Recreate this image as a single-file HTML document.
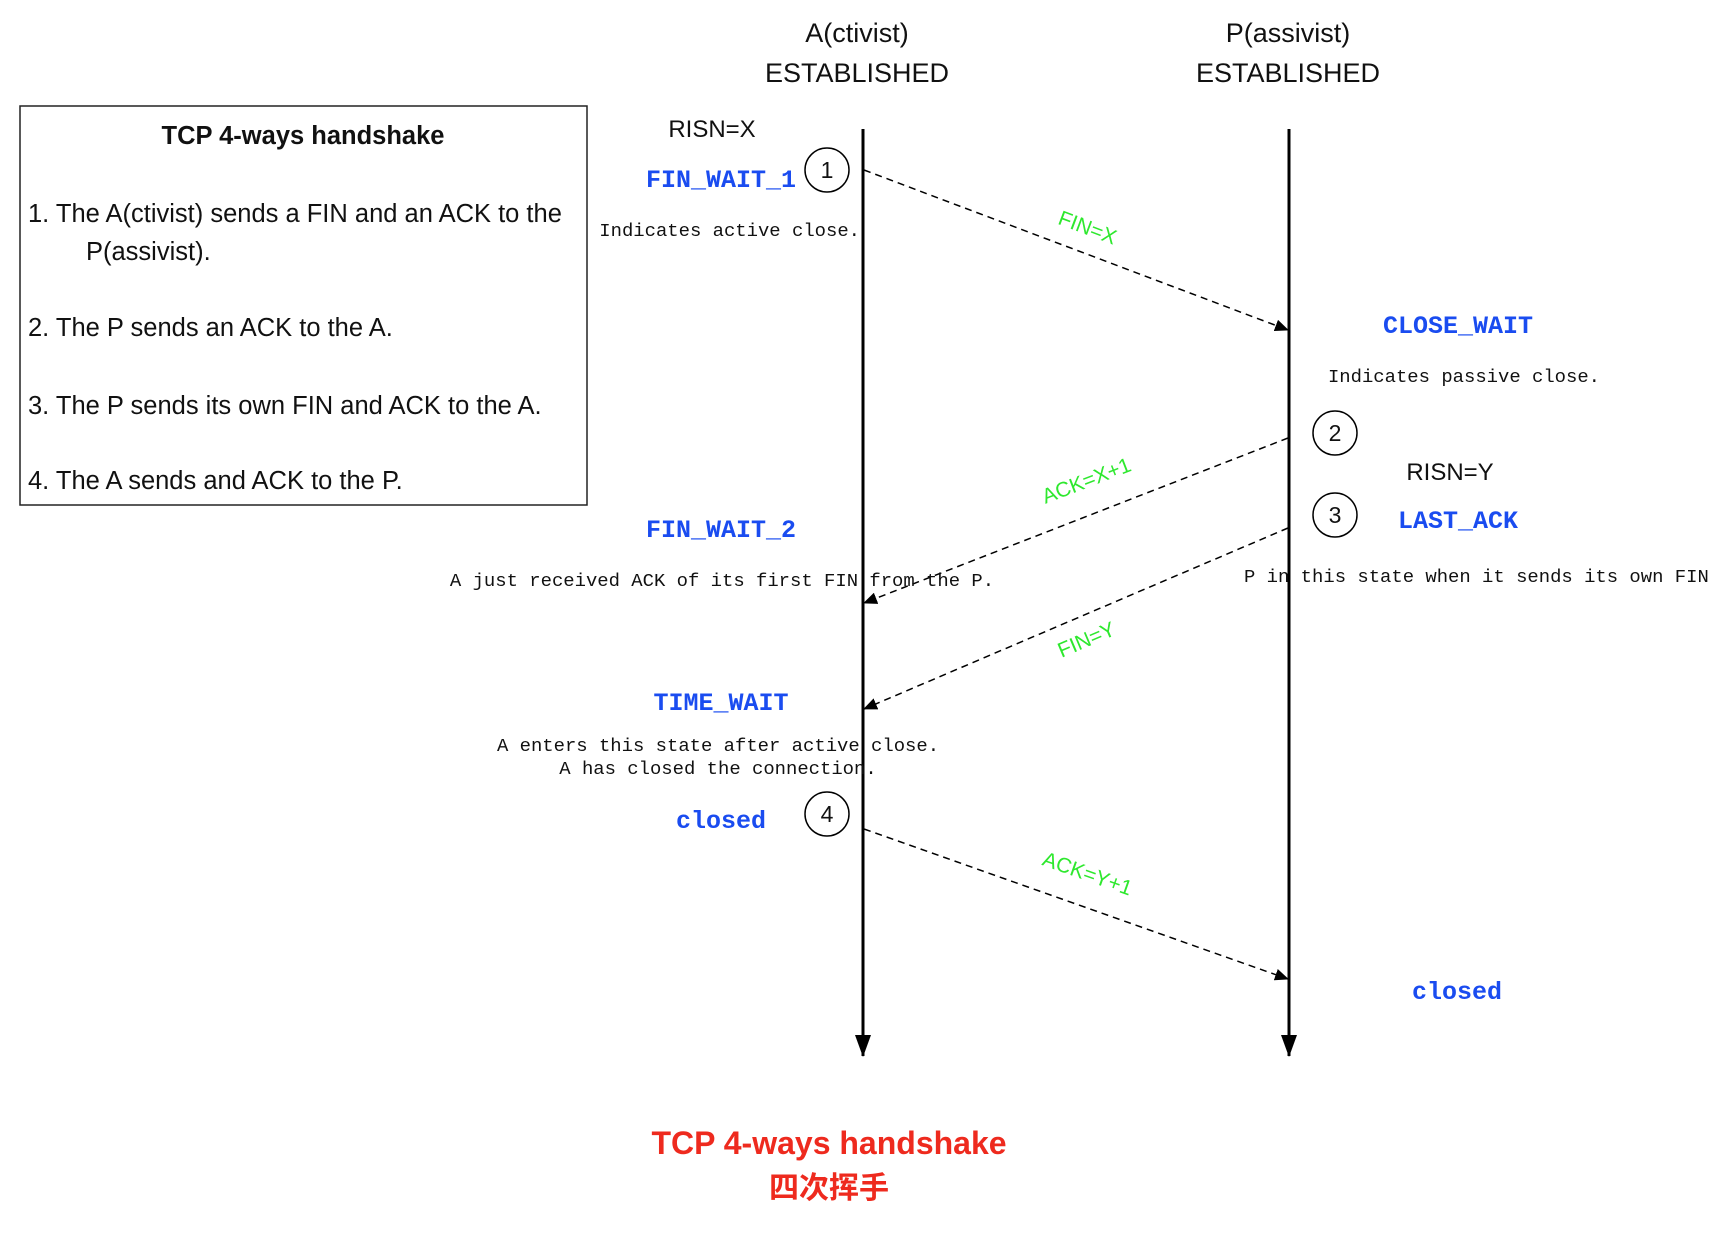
<!DOCTYPE html>
<html><head><meta charset="utf-8"><style>
html,body{margin:0;padding:0;background:#fff;}
svg{display:block;}
.s{font-family:"Liberation Sans","DejaVu Sans",sans-serif;}
.b{font-family:"Liberation Mono",monospace;font-weight:bold;fill:#1a4cf0;font-size:25px;}
.n{font-family:"Liberation Mono",monospace;font-size:18.9px;fill:#111;}
.g{font-family:"Liberation Sans",sans-serif;fill:#2ee82e;font-size:21px;}
</style></head><body>
<svg width="1710" height="1242" viewBox="0 0 1710 1242" xmlns="http://www.w3.org/2000/svg">
<defs>
<marker id="ah" markerWidth="14" markerHeight="12" refX="13" refY="6" orient="auto" markerUnits="userSpaceOnUse"><path d="M0,0 L14,6 L0,12 Z" fill="#000"/></marker>
<marker id="ah2" markerWidth="22" markerHeight="16" refX="21" refY="8" orient="auto" markerUnits="userSpaceOnUse"><path d="M0,0 L22,8 L0,16 Z" fill="#000"/></marker>
</defs>
<g class="s" font-size="27" text-anchor="middle" fill="#111">
<text x="857" y="42">A(ctivist)</text>
<text x="857" y="82">ESTABLISHED</text>
<text x="1288" y="42">P(assivist)</text>
<text x="1288" y="82">ESTABLISHED</text>
<text x="712" y="137" font-size="24">RISN=X</text>
<text x="1450" y="480" font-size="24">RISN=Y</text>
</g>
<rect x="20" y="106" width="567" height="399" fill="none" stroke="#222" stroke-width="1.5"/>
<g class="s" fill="#111" font-size="25.5">
<text x="303" y="144" text-anchor="middle" font-weight="bold">TCP 4-ways handshake</text>
<text x="28" y="222">1. The A(ctivist) sends a FIN and an ACK to the</text>
<text x="86" y="260">P(assivist).</text>
<text x="28" y="336">2. The P sends an ACK to the A.</text>
<text x="28" y="414">3. The P sends its own FIN and ACK to the A.</text>
<text x="28" y="489">4. The A sends and ACK to the P.</text>
</g>
<line x1="863" y1="129" x2="863" y2="1056" stroke="#000" stroke-width="3" marker-end="url(#ah2)"/>
<line x1="1289" y1="129" x2="1289" y2="1056" stroke="#000" stroke-width="3" marker-end="url(#ah2)"/>
<g stroke="#000" stroke-width="1.5" stroke-dasharray="7,5" fill="none">
<line x1="864" y1="170" x2="1288" y2="330" marker-end="url(#ah)"/>
<line x1="1288" y1="438" x2="864" y2="603" marker-end="url(#ah)"/>
<line x1="1288" y1="528" x2="864" y2="709" marker-end="url(#ah)"/>
<line x1="864" y1="829" x2="1288" y2="979" marker-end="url(#ah)"/>
</g>
<text class="g" transform="translate(1087,229) rotate(20.6)" text-anchor="middle" dominant-baseline="middle">FIN=X</text>
<text class="g" transform="translate(1087,482) rotate(-21)" text-anchor="middle" dominant-baseline="middle">ACK=X+1</text>
<text class="g" transform="translate(1087,641) rotate(-23)" text-anchor="middle" dominant-baseline="middle">FIN=Y</text>
<text class="g" transform="translate(1087,875) rotate(19.4)" text-anchor="middle" dominant-baseline="middle">ACK=Y+1</text>
<g fill="none" stroke="#000" stroke-width="1.5">
<circle cx="827" cy="170" r="22"/>
<circle cx="1335" cy="433" r="22"/>
<circle cx="1335" cy="515" r="22"/>
<circle cx="827" cy="814" r="22"/>
</g>
<g class="s" font-size="23" text-anchor="middle" fill="#111">
<text x="827" y="178">1</text>
<text x="1335" y="441">2</text>
<text x="1335" y="523">3</text>
<text x="827" y="822">4</text>
</g>
<text class="b" x="796" y="187" text-anchor="end">FIN_WAIT_1</text>
<text class="n" x="860" y="236" text-anchor="end">Indicates active close.</text>
<text class="b" x="1458" y="333" text-anchor="middle">CLOSE_WAIT</text>
<text class="n" x="1464" y="382" text-anchor="middle">Indicates passive close.</text>
<text class="b" x="1458" y="528" text-anchor="middle">LAST_ACK</text>
<text class="n" x="1244" y="582">P in this state when it sends its own FIN</text>
<text class="b" x="796" y="537" text-anchor="end">FIN_WAIT_2</text>
<text class="n" x="722" y="586" text-anchor="middle">A just received ACK of its first FIN from the P.</text>
<text class="b" x="721" y="710" text-anchor="middle">TIME_WAIT</text>
<text class="n" x="718" y="751" text-anchor="middle">A enters this state after active close.</text>
<text class="n" x="718" y="774" text-anchor="middle">A has closed the connection.</text>
<text class="b" x="721" y="828" text-anchor="middle">closed</text>
<text class="b" x="1457" y="999" text-anchor="middle">closed</text>
<text x="829" y="1154" text-anchor="middle" font-family="Liberation Sans, sans-serif" font-weight="bold" font-size="32" fill="#ee2a1e">TCP 4-ways handshake</text>
<text x="829" y="1198" text-anchor="middle" font-family="Liberation Sans, Noto Sans CJK SC, sans-serif" font-weight="bold" font-size="30" fill="#ee2a1e">四次挥手</text>
</svg>
</body></html>
